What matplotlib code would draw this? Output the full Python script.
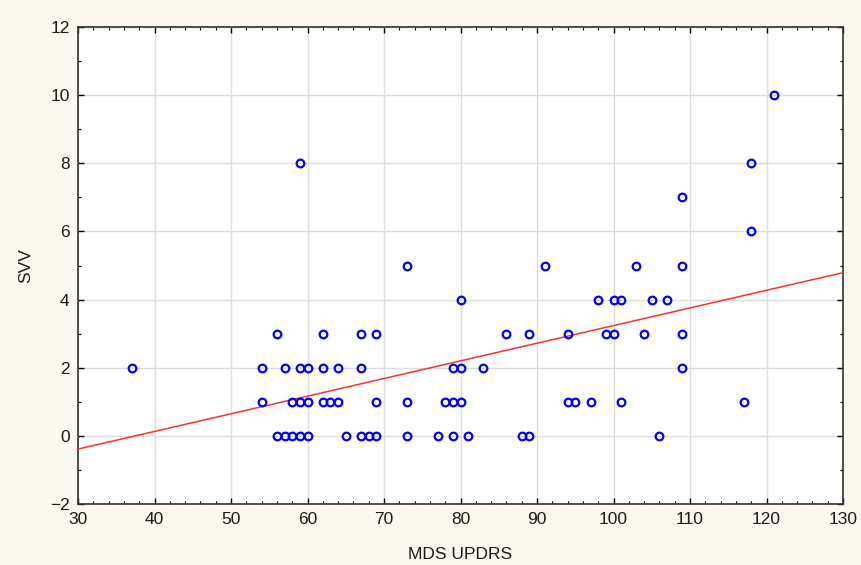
import numpy as np
import matplotlib
matplotlib.use("Agg")
from matplotlib import pyplot as plt
from matplotlib.ticker import MultipleLocator

plt.rcParams['font.family'] = ['Liberation Sans', 'DejaVu Sans']

# MDS UPDRS vs SVV
mds_updrs = [37,
             54, 57, 59, 60, 62, 64, 67, 79, 80, 83, 109,
             54, 58, 59, 60, 62, 63, 64, 69, 73, 78, 79, 80, 94, 95, 97, 101, 117,
             56, 57, 58, 59, 60, 65, 67, 68, 69, 73, 77, 79, 81, 88, 89, 106,
             56, 62, 67, 69, 86, 89, 94, 99, 100, 104, 109,
             80, 98, 100, 101, 105, 107,
             73, 91, 103, 109,
             118, 109, 59, 118, 121]
svv = [2,
       2, 2, 2, 2, 2, 2, 2, 2, 2, 2, 2,
       1, 1, 1, 1, 1, 1, 1, 1, 1, 1, 1, 1, 1, 1, 1, 1, 1,
       0, 0, 0, 0, 0, 0, 0, 0, 0, 0, 0, 0, 0, 0, 0, 0,
       3, 3, 3, 3, 3, 3, 3, 3, 3, 3, 3,
       4, 4, 4, 4, 4, 4,
       5, 5, 5, 5,
       6, 7, 8, 8, 10]

x = np.array(mds_updrs, dtype=float)
y = np.array(svv, dtype=float)

bg = "#fdf8ee"
fig = plt.figure(figsize=(8.62, 5.65), dpi=100, facecolor=bg)
ax = fig.add_axes([0.0905, 0.108, 0.8875, 0.844])
ax.set_facecolor("white")

# least squares fit line across the whole x range
slope, icpt = np.polyfit(x, y, 1)
xl = np.array([30, 130])
ax.plot(xl, slope * xl + icpt, color="#ff3030", lw=1.1, zorder=3)

ax.plot(x, y, linestyle="none", marker="o", markersize=5.5, markerfacecolor="none",
        markeredgecolor="#0000ff", markeredgewidth=1.6, zorder=4)

ax.set_xlim(30, 130)
ax.set_ylim(-2, 12)
ax.xaxis.set_major_locator(MultipleLocator(10))
ax.xaxis.set_minor_locator(MultipleLocator(2))
ax.yaxis.set_major_locator(MultipleLocator(2))
ax.yaxis.set_minor_locator(MultipleLocator(1))
ax.grid(True, which="major", color="#dcdcdc", lw=1)
ax.set_axisbelow(True)
ax.tick_params(which="both", direction="in", top=True, right=True, labelsize=12.5,
               pad=6, labelcolor="#1a1a1a")
ax.tick_params(which="major", length=4, width=1)
ax.tick_params(which="minor", length=2, width=0.8)
for s in ax.spines.values():
    s.set_linewidth(1.2)
    s.set_color("#333333")

ax.set_xlabel("MDS UPDRS", fontsize=12.5, labelpad=14, color="#1a1a1a")
ax.set_ylabel("SVV", fontsize=12.5, labelpad=12, color="#1a1a1a")

fig.savefig("out.png", dpi=100, facecolor=bg)
